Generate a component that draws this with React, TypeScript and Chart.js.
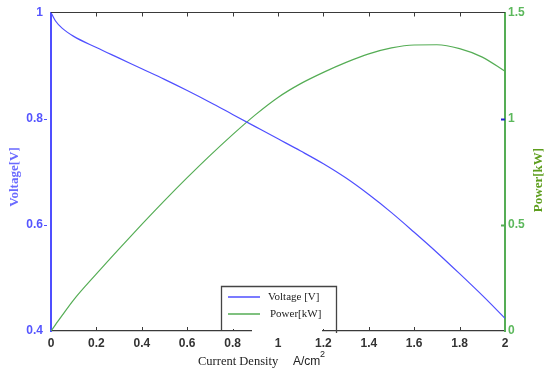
import React, { useEffect, useRef } from "react";
import { Chart, registerables } from "chart.js";

Chart.register(...registerables);

const currentDensity = [0, 0.02, 0.05, 0.1, 0.2, 0.3, 0.4, 0.5, 0.6, 0.7, 0.8, 0.9, 1.0, 1.1, 1.2, 1.3, 1.4, 1.5, 1.6, 1.7, 1.8, 1.9, 2.0];
const voltage = [1.0, 0.984, 0.97, 0.955, 0.934, 0.914, 0.894, 0.874, 0.853, 0.831, 0.808, 0.785, 0.762, 0.739, 0.715, 0.688, 0.657, 0.623, 0.586, 0.548, 0.508, 0.467, 0.424];
const power = [0, 0.03, 0.075, 0.147, 0.269, 0.387, 0.502, 0.614, 0.722, 0.826, 0.925, 1.018, 1.1, 1.165, 1.218, 1.265, 1.305, 1.333, 1.347, 1.348, 1.33, 1.29, 1.223];
const xTicks = [0, 0.2, 0.4, 0.6, 0.8, 1, 1.2, 1.4, 1.6, 1.8, 2];
const leftTicks = [0.4, 0.6, 0.8, 1];
const rightTicks = [0, 0.5, 1, 1.5];
const seriesLabels = ["Voltage [V]", "Power[kW]"];

const BLUE = "#4f4fff";
const GREEN = "#55ad55";
const AXIS_GRAY = "#3a3a3a";

const decorPlugin = {
  id: "decor",
  afterDraw(chart: any) {
    const { ctx, chartArea, scales } = chart;
    const { left, right, top, bottom } = chartArea;
    const xs = scales.x;
    const yl = scales.yL;
    const yr = scales.yR;
    ctx.save();
    ctx.strokeStyle = AXIS_GRAY;
    ctx.lineWidth = 1.2;
    ctx.beginPath();
    ctx.moveTo(left, top);
    ctx.lineTo(right, top);
    ctx.stroke();
    ctx.lineWidth = 1;
    xTicks.forEach((v) => {
      if (v === 0 || v === 2) return;
      const px = Math.round(xs.getPixelForValue(v)) + 0.5;
      ctx.beginPath();
      ctx.moveTo(px, top);
      ctx.lineTo(px, top + 4);
      ctx.moveTo(px, bottom);
      ctx.lineTo(px, bottom - 4);
      ctx.stroke();
    });
    ctx.strokeStyle = BLUE;
    leftTicks.forEach((v) => {
      if (v === 0.4 || v === 1) return;
      const py = Math.round(yl.getPixelForValue(v)) + 0.5;
      ctx.beginPath();
      ctx.moveTo(left - 7, py);
      ctx.lineTo(left - 4, py);
      ctx.stroke();
    });
    rightTicks.forEach((v) => {
      if (v === 0 || v === 1.5) return;
      const py = Math.round(yr.getPixelForValue(v)) + 0.5;
      ctx.strokeStyle = v === 1 ? "#2222cc" : GREEN;
      ctx.lineWidth = 2;
      ctx.beginPath();
      ctx.moveTo(right - 4, py);
      ctx.lineTo(right, py);
      ctx.stroke();
    });

    // legend
    const lx = 221, ly = 286, lw = 115, lh = 44;
    ctx.fillStyle = "#ffffff";
    ctx.fillRect(lx, ly, lw, lh - 1);
    ctx.fillRect(252, bottom - 2, 70, 5);
    ctx.strokeStyle = "#444444";
    ctx.lineWidth = 1.3;
    ctx.beginPath();
    ctx.moveTo(lx + 0.5, ly + lh);
    ctx.lineTo(lx + 0.5, ly + 0.5);
    ctx.lineTo(lx + lw + 0.5, ly + 0.5);
    ctx.lineTo(lx + lw + 0.5, ly + lh + 3);
    ctx.stroke();
    const rows = [
      { label: chart.data.datasets[0].label, color: BLUE, y: 297 },
      { label: chart.data.datasets[1].label, color: GREEN, y: 314 },
    ];
    ctx.font = "11px 'Liberation Serif', 'Times New Roman', serif";
    ctx.textBaseline = "middle";
    ctx.textAlign = "left";
    rows.forEach((r, i) => {
      ctx.strokeStyle = r.color;
      ctx.lineWidth = 1.5;
      ctx.beginPath();
      ctx.moveTo(228, r.y);
      ctx.lineTo(260, r.y);
      ctx.stroke();
      ctx.fillStyle = "#222222";
      ctx.fillText(r.label, i === 0 ? 268 : 270, r.y);
    });

    // axis titles
    ctx.textAlign = "center";
    ctx.font = "bold 13px 'Liberation Serif', 'Times New Roman', serif";
    ctx.fillStyle = "#6a6aff";
    ctx.save();
    ctx.translate(15, 177);
    ctx.rotate(-Math.PI / 2);
    ctx.fillText("Voltage[V]", 0, 0);
    ctx.restore();
    ctx.fillStyle = "#5e9e1e";
    ctx.save();
    ctx.translate(539, 180);
    ctx.rotate(-Math.PI / 2);
    ctx.fillText("Power[kW]", 0, 0);
    ctx.restore();

    ctx.fillStyle = "#222222";
    ctx.textAlign = "left";
    ctx.font = "12.5px 'Liberation Serif', 'Times New Roman', serif";
    ctx.fillText("Current Density", 198, 362);
    ctx.font = "12px 'Liberation Sans', Arial, sans-serif";
    ctx.fillText("A/cm", 293, 362);
    ctx.font = "9px 'Liberation Sans', Arial, sans-serif";
    ctx.fillText("2", 320, 355);
    ctx.restore();
  },
};

export default function App() {
  const canvasRef = useRef<HTMLCanvasElement | null>(null);

  useEffect(() => {
    if (!canvasRef.current) return;
    const chart = new Chart(canvasRef.current, {
      type: "line",
      data: {
        datasets: [
          {
            label: seriesLabels[0],
            data: currentDensity.map((x, i) => ({ x, y: voltage[i] })),
            borderColor: BLUE,
            borderWidth: 1.2,
            pointRadius: 0,
            cubicInterpolationMode: "monotone",
            yAxisID: "yL",
          },
          {
            label: seriesLabels[1],
            data: currentDensity.map((x, i) => ({ x, y: power[i] })),
            borderColor: GREEN,
            borderWidth: 1.2,
            pointRadius: 0,
            cubicInterpolationMode: "monotone",
            yAxisID: "yR",
          },
        ],
      },
      options: {
        animation: false,
        responsive: false,
        maintainAspectRatio: false,
        layout: { padding: { top: 12.5, left: 0, right: 0, bottom: 0 } },
        plugins: { legend: { display: false }, tooltip: { enabled: false } },
        scales: {
          x: {
            type: "linear",
            min: 0,
            max: 2,
            afterFit: (s: any) => { s.height = 41; },
            afterBuildTicks: (s: any) => { s.ticks = xTicks.map((v) => ({ value: v })); },
            grid: { display: false, drawTicks: false },
            border: { display: true, color: AXIS_GRAY, width: 1.3 },
            ticks: {
              padding: 5,
              color: "#333333",
              font: { family: "'Liberation Sans', Arial, sans-serif", size: 12, weight: "bold" },
              callback: (v: any) => String(Math.round(v * 10) / 10),
              maxRotation: 0,
              autoSkip: false,
            },
          },
          yL: {
            type: "linear",
            position: "left",
            min: 0.4,
            max: 1,
            afterFit: (s: any) => { s.width = 51; s.paddingTop = 0; },
            afterBuildTicks: (s: any) => { s.ticks = leftTicks.map((v) => ({ value: v })); },
            grid: { display: false, drawTicks: false },
            border: { display: true, color: BLUE, width: 2 },
            ticks: {
              padding: 8,
              color: "#5555ff",
              font: { family: "'Liberation Sans', Arial, sans-serif", size: 12, weight: "bold", lineHeight: 0.8 },
              callback: (v: any) => String(Math.round(v * 10) / 10),
            },
          },
          yR: {
            type: "linear",
            position: "right",
            min: 0,
            max: 1.5,
            afterFit: (s: any) => { s.width = 40; s.paddingTop = 0; },
            afterBuildTicks: (s: any) => { s.ticks = rightTicks.map((v) => ({ value: v })); },
            grid: { display: false, drawTicks: false },
            border: { display: true, color: GREEN, width: 2 },
            ticks: {
              padding: 3,
              color: "#5cb85c",
              font: { family: "'Liberation Sans', Arial, sans-serif", size: 12, weight: "bold", lineHeight: 0.8 },
              callback: (v: any) => String(Math.round(v * 10) / 10),
            },
          },
        },
      },
      plugins: [decorPlugin],
    } as any);
    return () => chart.destroy();
  }, []);

  return (
    <div style={{ position: "fixed", left: 0, top: 0, width: 545, height: 372, background: "#ffffff" }}>
      <canvas ref={canvasRef} width={545} height={372} style={{ width: 545, height: 372, display: "block" }} />
    </div>
  );
}
